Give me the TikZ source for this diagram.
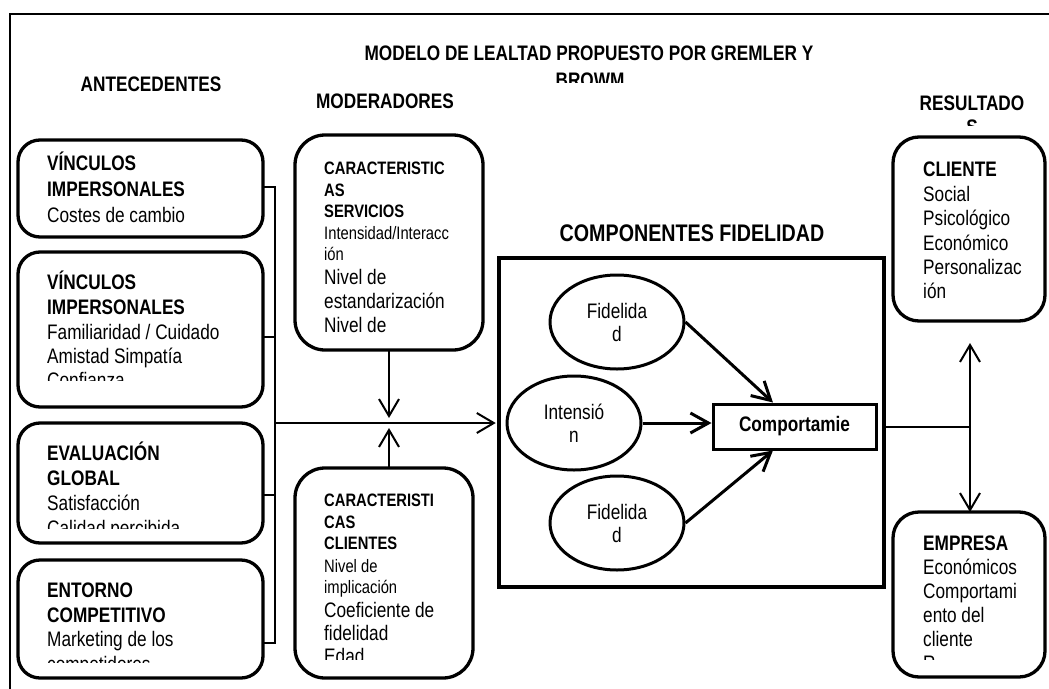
\documentclass[tikz,border=0pt]{standalone}
\usepackage{fontspec}
\setmainfont{Liberation Sans}[FakeStretch=0.82]
\usetikzlibrary{arrows.meta,shapes.geometric,calc}

\newcommand\bigtxt{\fontsize{21pt}{24pt}\selectfont}
\newcommand\smalltxt{\fontsize{18pt}{21pt}\selectfont}
\newcommand\headtxt{\fontsize{21pt}{24pt}\selectfont\bfseries}

\tikzset{
  frame/.style={line width=2pt},
  rbox/.style={draw, line width=3.3pt, rounded corners=22pt, inner sep=0pt, outer sep=0pt},
  mbox/.style={rbox, rounded corners=30pt},
  xbox/.style={rbox, rounded corners=26pt},
  lt/.style={anchor=base west, inner sep=0pt, font=\bigtxt},
  st/.style={anchor=base west, inner sep=0pt, font=\smalltxt},
  hd/.style={anchor=base, inner sep=0pt, font=\headtxt},
  ell/.style={draw, ellipse, line width=3pt, minimum width=134pt, minimum height=94pt,
    inner sep=0pt, align=center, font=\fontsize{21pt}{23pt}\selectfont},
  link/.style={line width=2pt},
  arr/.style={link, -{Straight Barb[length=17pt,width=20pt]}},
  tarr/.style={line width=3pt, -{Straight Barb[length=18pt,width=20pt]}}
}

\begin{document}
\begin{tikzpicture}[x=1pt,y=-1pt]
\useasboundingbox (0,0) rectangle (1049,688);
\clip (0,0) rectangle (1049,688);
\fill[white] (0,0) rectangle (1049,688);

% outer frame, running off the page at right and bottom
\draw[frame] (10,700) |- (1070,14);

% headings
\node[hd] (title1) at (589,60.5) {MODELO DE LEALTAD PROPUESTO POR GREMLER Y};
\begin{scope}
  \clip (300,60) rectangle (880,82);
  \node[hd] (title2) at (590,87.5) {BROWM};
\end{scope}
\node[hd] (hAnt) at (151,91.5) {ANTECEDENTES};
\node[hd] (hMod) at (385,108.5) {MODERADORES};
\node[hd] (hRes) at (972,110.5) {RESULTADO};
\begin{scope}
  \clip (900,112) rectangle (1049,125);
  \node[hd] (hRes2) at (972,134.5) {S};
\end{scope}
\node[hd, font=\fontsize{24pt}{28pt}\selectfont\bfseries] (hComp) at (692,241.5) {COMPONENTES FIDELIDAD};

% antecedentes
\node[rbox, minimum width=245pt, minimum height=97pt]  (b1) at (140.5,188.5) {};
\node[rbox, minimum width=245pt, minimum height=155pt] (b2) at (140.5,329.5) {};
\node[rbox, minimum width=245pt, minimum height=120pt] (b3) at (140.5,483) {};
\node[rbox, minimum width=245pt, minimum height=118pt] (b4) at (140.5,619) {};

\node[lt] (b1a) at (47,170) {\bfseries VÍNCULOS};
\node[lt] (b1b) at (47,196) {\bfseries IMPERSONALES};
\node[lt] (b1c) at (47,222) {Costes de cambio};

\node[lt] (b2a) at (47,289) {\bfseries VÍNCULOS};
\node[lt] (b2b) at (47,314) {\bfseries IMPERSONALES};
\node[lt] (b2c) at (47,339) {Familiaridad / Cuidado};
\node[lt] (b2d) at (47,363) {Amistad Simpatía};
\begin{scope}
  \clip (20,365) rectangle (260,380);
  \node[lt] (b2e) at (47,387) {Confianza};
\end{scope}

\node[lt] (b3a) at (47,460) {\bfseries EVALUACIÓN};
\node[lt] (b3b) at (47,485) {\bfseries GLOBAL};
\node[lt] (b3c) at (47,510) {Satisfacción};
\begin{scope}
  \clip (20,514) rectangle (260,528);
  \node[lt] (b3d) at (47,535) {Calidad percibida};
\end{scope}

\node[lt] (b4a) at (47,597) {\bfseries ENTORNO};
\node[lt] (b4b) at (47,622) {\bfseries COMPETITIVO};
\node[lt] (b4c) at (47,646) {Marketing de los};
\begin{scope}
  \clip (20,650) rectangle (260,662);
  \node[lt] (b4d) at (47,671) {competidores};
\end{scope}

% moderadores
\node[mbox, minimum width=188pt, minimum height=215pt] (serv) at (389,242.5) {};
\node[mbox, minimum width=178pt, minimum height=210pt] (clie) at (384,573) {};

\node[st] (s1) at (324,174) {\bfseries CARACTERISTIC};
\node[st] (s2) at (324,196) {\bfseries AS};
\node[st] (s3) at (324,217) {\bfseries SERVICIOS};
\node[st] (s4) at (324,239) {Intensidad/Interacc};
\node[st] (s5) at (324,260) {ión};
\node[lt] (s6) at (324,284) {Nivel de};
\node[lt] (s7) at (324,308) {estandarización};
\node[lt] (s8) at (324,332) {Nivel de};

\node[st] (c1) at (324,506) {\bfseries CARACTERISTI};
\node[st] (c2) at (324,528) {\bfseries CAS};
\node[st] (c3) at (324,549) {\bfseries CLIENTES};
\node[st] (c4) at (324,572) {Nivel de};
\node[st] (c5) at (324,593) {implicación};
\node[lt] (c6) at (324,617) {Coeficiente de};
\node[lt] (c7) at (324,640) {fidelidad};
\begin{scope}
  \clip (300,644) rectangle (470,659);
  \node[lt] (c8) at (324,663) {Edad};
\end{scope}

% componentes de la fidelidad
\node[draw, line width=3.5pt, minimum width=385pt, minimum height=329pt, inner sep=0pt] (comp) at (691.5,422.5) {};
\node[ell] (f1) at (617,322) {Fidelida\\d};
\node[ell] (f2) at (574,423) {Intensió\\n};
\node[ell] (f3) at (617,523) {Fidelida\\d};
\node[draw, line width=3pt, minimum width=163pt, minimum height=45pt, inner sep=0pt,
      font=\bigtxt\bfseries] (beh) at (794.5,426.5) {Comportamie};

\draw[tarr] (f1.east) -- ($(beh.north west)!0.37!(beh.north east)$);
\draw[tarr] (f2.east) -- (f2.east -| beh.west);
\draw[tarr] (f3.east) -- ($(beh.south west)!0.37!(beh.south east)$);

% resultados
\node[xbox, minimum width=152pt, minimum height=184pt] (cl) at (969,229) {};
\node[xbox, minimum width=152pt, minimum height=165pt] (em) at (969,594.5) {};

\node[lt] (r1) at (923,176) {\bfseries CLIENTE};
\node[lt] (r2) at (923,201) {Social};
\node[lt] (r3) at (923,225) {Psicológico};
\node[lt] (r4) at (923,250) {Económico};
\node[lt] (r5) at (923,274) {Personalizac};
\node[lt] (r6) at (923,298) {ión};

\node[lt] (e1) at (923,550) {\bfseries EMPRESA};
\node[lt] (e2) at (923,574) {Económicos};
\node[lt] (e3) at (923,598) {Comportami};
\node[lt] (e4) at (923,622) {ento del};
\node[lt] (e5) at (923,646) {cliente};
\begin{scope}
  \clip (900,650) rectangle (1040,659);
  \node[lt] (e6) at (923,670) {R};
\end{scope}

% connectors
\coordinate (bus1) at (275,187);
\coordinate (bus2) at (275,337);
\coordinate (bus3) at (275,495);
\coordinate (bus4) at (275,643);
\coordinate (busm) at (275,423);
\draw[link] (bus1 -| b1.east) -- (bus1) -- (bus4) -- (bus4 -| b4.east);
\draw[link] (bus2 -| b2.east) -- (bus2);
\draw[link] (bus3 -| b3.east) -- (bus3);
\draw[arr, shorten >=1.5pt] (busm) -- (busm -| comp.west);

\coordinate (mx) at (serv.south |- busm);
\draw[arr, shorten >=5pt] (serv.south) -- (mx);
\draw[arr, shorten >=5pt] (mx |- clie.north) -- (mx);

\coordinate (hub) at (970,427);
\draw[link] (hub -| comp.east) -- (hub);
\draw[arr, shorten >=22pt] (hub) -- (hub |- cl.south);
\draw[arr] (hub) -- (hub |- em.north);
\end{tikzpicture}
\end{document}
